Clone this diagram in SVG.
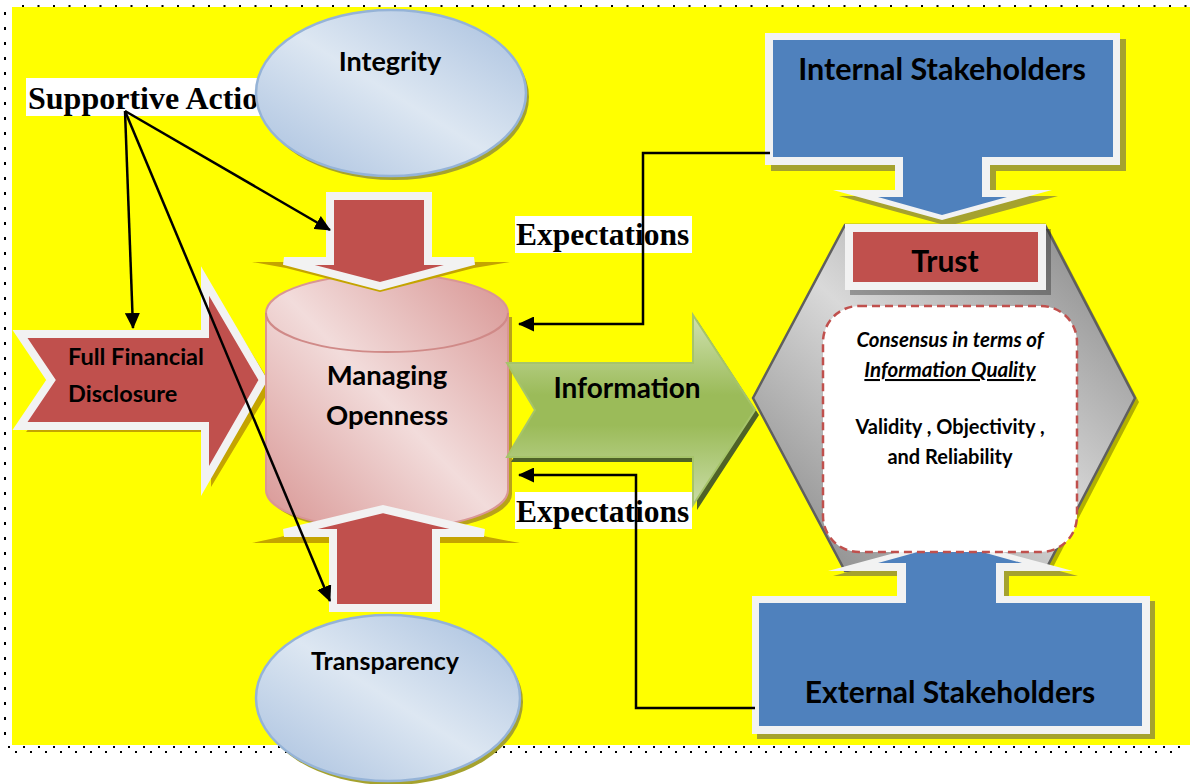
<svg xmlns="http://www.w3.org/2000/svg" width="1190" height="784" viewBox="0 0 1190 784">
<defs>
<style>
.cal{font-family:Lato,"Open Sans","Liberation Sans",sans-serif;font-weight:bold;fill:#000}
.tnr{font-family:"Liberation Serif","Times New Roman",serif;font-weight:bold;fill:#000}
.wl{stroke:#f2f2f2;stroke-width:8;stroke-linejoin:miter;stroke-miterlimit:4}
.red{fill:#c0504d}
.sh{fill:#a5a22e}
.gold{fill:#c4a400}
.conn{fill:none;stroke:#000;stroke-width:2.5}
.dot{fill:none;stroke:#000;stroke-width:2}
</style>
<linearGradient id="gBlue" x1="0" y1="1" x2="1" y2="0">
<stop offset="0" stop-color="#a7bfde"/><stop offset="0.5" stop-color="#dde7f2"/><stop offset="1" stop-color="#a7bfde"/>
</linearGradient>
<linearGradient id="gPink" x1="0" y1="1" x2="1" y2="0">
<stop offset="0" stop-color="#d89593"/><stop offset="0.5" stop-color="#f2dcdb"/><stop offset="1" stop-color="#d89593"/>
</linearGradient>
<linearGradient id="gGray" x1="0" y1="1" x2="1" y2="0">
<stop offset="0" stop-color="#7f7f7f"/><stop offset="0.5" stop-color="#d9d9d9"/><stop offset="1" stop-color="#7f7f7f"/>
</linearGradient>
<linearGradient id="gGreen" x1="0" y1="0" x2="0" y2="1">
<stop offset="0" stop-color="#d0e1b0"/><stop offset="0.42" stop-color="#9bbb59"/><stop offset="0.58" stop-color="#9bbb59"/><stop offset="1" stop-color="#cadda7"/>
</linearGradient>
<marker id="ah" markerUnits="userSpaceOnUse" markerWidth="16" markerHeight="15" refX="15" refY="7.5" orient="auto">
<path d="M0,0 L16,7.5 L0,15 Z" fill="#000"/>
</marker>
</defs>

<!-- background -->
<rect x="12" y="7" width="1178" height="738" fill="#ffff00"/>
<path class="dot" d="M22,6 H1190" stroke-dasharray="2 13.5"/>
<path class="dot" d="M5,12 V742" stroke-dasharray="3 12"/>
<path class="dot" d="M8,747 H1185" stroke-dasharray="2 13"/>
<path class="dot" d="M15,752 H1185" stroke-dasharray="2 13"/>

<g id="supportive-actions">
<rect x="26" y="78" width="236" height="38" fill="#fff"/>
<text class="tnr" x="28" y="109" font-size="32">Supportive Actio</text>
</g>

<g id="integrity">
<ellipse class="sh" cx="394" cy="97" rx="135" ry="83"/>
<ellipse cx="391" cy="93" rx="135" ry="83" fill="url(#gBlue)" stroke="#95b3d7" stroke-width="2.5"/>
<text class="cal" x="390" y="71" font-size="27" text-anchor="middle">Integrity</text>
</g>

<g id="full-financial-disclosure">
<path class="gold" d="M26,340 H211 V287 L272,386 L211,487 V432 H26 L63,386 Z"/>
<path class="red wl" d="M20,334 H205 V281 L263,380 L205,481 V426 H20 L51,380 Z"/>
<text class="cal" x="68" y="365" font-size="23.5">Full Financial</text>
<text class="cal" x="68" y="402" font-size="23.5">Disclosure</text>
</g>

<g id="managing-openness">
<path d="M270,317 V494 A121,39 0 0 0 512,494 V317 Z" fill="#b8a21a"/>
<path d="M266,313 V490 A121,39 0 0 0 508,490 V313 A121,39 0 0 0 266,313 Z" fill="url(#gPink)" stroke="#d99694" stroke-width="2"/>
<path d="M266,313 A121,39 0 0 0 508,313" fill="none" stroke="#d08a88" stroke-width="2"/>
<text class="cal" x="387" y="385" font-size="27.5" text-anchor="middle">Managing</text>
<text class="cal" x="387" y="425" font-size="27.5" text-anchor="middle">Openness</text>
</g>

<g id="top-arrow">
<polygon class="gold" points="252,262 510,262 474,268 380,292 286,268"/>
<path class="red wl" d="M330,196 H428 V261 H474 L380,286 L284,261 H330 Z"/>
</g>

<g id="bottom-arrow">
<polygon class="gold" points="252,543 520,543 488,537 383,513 280,537"/>
<path class="gold" d="M337,612 V540 H440 V612 Z"/>
<path class="red wl" d="M333,608 V533 H284 L383,509 L484,533 H436 V608 Z"/>
</g>

<g id="transparency">
<ellipse class="sh" cx="391" cy="702" rx="132" ry="83"/>
<ellipse cx="388" cy="698" rx="132" ry="83" fill="url(#gBlue)" stroke="#95b3d7" stroke-width="2.5"/>
<text class="cal" x="385" y="670" font-size="25" text-anchor="middle">Transparency</text>
</g>

<g id="information">
<path d="M511,368 H697 V320 L759,415 L697,510 V462 H511 L539,415 Z" fill="#4f6228"/>
<path d="M507,363 H693 V315 L755,410 L693,505 V457 H507 L535,410 Z" fill="url(#gGreen)" stroke="#a6c46a" stroke-width="2"/>
<text class="cal" x="627" y="398" font-size="28" text-anchor="middle">Information</text>
</g>

<g id="trust-hexagon">
<polygon points="757,402 849,229 1049,229 1139,402 1049,575 849,575" fill="#b2b000"/>
<polygon points="753,398 845,225 1045,225 1135,398 1045,571 845,571" fill="url(#gGray)" stroke="#5f5f5f" stroke-width="2.5"/>
</g>

<g id="external-stakeholders">
<polygon class="sh" points="757,601 902,601 902,576 833,576 955,543 1078,576 1009,576 1009,601 1155,601 1155,739 757,739"/>
<polygon fill="#f2f2f2" points="752,596 897,596 897,571 828,571 950,538 1073,571 1004,571 1004,596 1150,596 1150,734 752,734"/>
<polygon fill="#4f81bd" points="759,603 906,603 906,563 878,563 950,543 1022,563 996,563 996,603 1142,603 1142,726 759,726"/>
<text class="cal" x="950" y="703" font-size="30" text-anchor="middle">External Stakeholders</text>
</g>

<g id="internal-stakeholders">
<polygon class="sh" points="771,39 1126,39 1126,171 996,171 996,196 1058,196 948,226 839,196 901,196 901,171 771,171"/>
<polygon fill="#f2f2f2" points="765,33 1120,33 1120,165 990,165 990,190 1052,190 942,220 833,190 895,190 895,165 765,165"/>
<polygon fill="#4f81bd" points="773,40 1113,40 1113,157 982,157 982,197 1007,197 942,215 878,197 903,197 903,157 773,157"/>
<text class="cal" x="942" y="80" font-size="30.5" text-anchor="middle">Internal Stakeholders</text>
</g>

<g id="consensus">
<rect x="823" y="306" width="254" height="246" rx="36" fill="#fff" stroke="#c0504d" stroke-width="2.5" stroke-dasharray="8 5"/>
<text class="cal" x="950" y="347" font-size="20.5" font-style="italic" text-anchor="middle">Consensus in terms of</text>
<text class="cal" x="950" y="377" font-size="20.5" font-style="italic" text-anchor="middle" text-decoration="underline">Information Quality</text>
<text class="cal" x="950" y="434" font-size="20" text-anchor="middle">Validity , Objectivity ,</text>
<text class="cal" x="950" y="464" font-size="20" text-anchor="middle">and Reliability</text>
</g>

<g id="trust">
<rect x="850" y="229" width="201" height="66" fill="#000" fill-opacity="0.3"/>
<rect x="845" y="224" width="201" height="66" fill="#f2f2f2"/>
<rect x="853" y="232" width="185" height="50" fill="#c0504d"/>
<text class="cal" x="945" y="272" font-size="30" text-anchor="middle">Trust</text>
</g>

<g id="expectations-upper">
<rect x="515" y="216" width="177" height="37" fill="#fff"/>
<text class="tnr" x="516" y="245" font-size="31.5">Expectations</text>
</g>
<g id="expectations-lower">
<rect x="515" y="492" width="177" height="37" fill="#fff"/>
<text class="tnr" x="516" y="522" font-size="31.5">Expectations</text>
</g>

<g id="connectors">
<path class="conn" d="M125,111 L133,328" marker-end="url(#ah)"/>
<path class="conn" d="M125,111 L330,230" marker-end="url(#ah)"/>
<path class="conn" d="M125,111 L330,601" marker-end="url(#ah)"/>
<path class="conn" d="M770,153 H643 V324 H519" marker-end="url(#ah)"/>
<path class="conn" d="M755,708 H636 V475 H519" marker-end="url(#ah)"/>
</g>
</svg>
